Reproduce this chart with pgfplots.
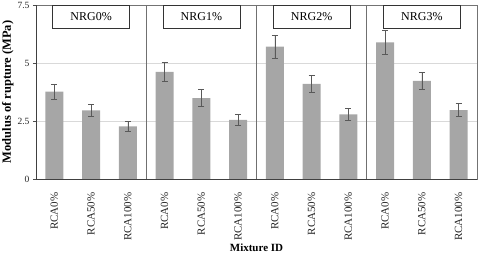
\documentclass[border=0pt]{standalone}
\usepackage{pgfplots}
\pgfplotsset{compat=1.18}
\usepackage{fontspec}
\setmainfont{Liberation Serif}
\usetikzlibrary{shadows}
\definecolor{barg}{HTML}{A6A6A6}
\definecolor{errg}{HTML}{595959}
\definecolor{gridg}{HTML}{D9D9D9}
\definecolor{sepg}{HTML}{707070}
\begin{document}
\begin{tikzpicture}
\begin{axis}[name=ax, at={(0,0)}, anchor=south west,
  scale only axis, width=441pt, height=174pt,
  xmin=-0.5, xmax=11.5, ymin=0, ymax=7.5,
  ytick={0,2.5,5,7.5}, yticklabels={0,2.5,5,7.5},
  xtick={0,...,11},
  xticklabels={RCA0\%,RCA50\%,RCA100\%,RCA0\%,RCA50\%,RCA100\%,RCA0\%,RCA50\%,RCA100\%,RCA0\%,RCA50\%,RCA100\%},
  x tick label style={rotate=90, anchor=east, xshift=-10pt, font=\fontsize{11}{12}\selectfont, text=black!85},
  y tick label style={font=\fontsize{9.5}{11}\selectfont, text=black!85},
  /pgf/number format/assume math mode=true,
  xtick style={draw=none},
  ytick pos=left,
  ytick align=outside, major tick length=3pt,
  ytick style={draw=black!70, line width=0.6pt},
  ymajorgrids, major grid style={gridg, line width=0.6pt},
  extra x ticks={2.5,5.5,8.5}, extra x tick labels={},
  extra x tick style={grid=major, major grid style={sepg, line width=0.8pt}, tick style={draw=none}},
  axis line style={draw=black!55, line width=0.6pt},
  xlabel={\bfseries Mixture ID}, xlabel style={font=\fontsize{11}{12}\selectfont, at={(0.5,0)}, anchor=north, yshift=-61pt},
  ylabel={\bfseries Modulus of rupture (MPa)}, ylabel style={font=\fontsize{12.5}{13}\selectfont, at={(0,0.5)}, anchor=south, yshift=19pt},
  clip=false,
]
\addplot[ybar, bar width=0.49, fill=barg, draw=none,
  error bars/.cd, y dir=both, y explicit,
  error bar style={errg, line width=0.7pt},
  error mark options={errg, line width=0.7pt, mark size=3pt, rotate=90}]
  table[x=x, y=y, y error=e] {
x y e
0 3.77 0.33
1 2.96 0.27
2 2.27 0.22
3 4.62 0.42
4 3.49 0.36
5 2.55 0.22
6 5.71 0.50
7 4.10 0.35
8 2.79 0.25
9 5.89 0.50
10 4.23 0.38
11 2.97 0.28
};
\draw[black!75, line width=0.9pt] (axis cs:-0.5,0) -- (axis cs:-0.5,7.5);
\draw[black!75, line width=0.9pt] (axis cs:-0.5,0) -- (axis cs:11.5,0);
\tikzset{pbox/.style={draw=black!80, fill=white, line width=0.6pt, minimum width=77pt, minimum height=23pt, inner sep=0pt, anchor=north, font=\fontsize{12}{13}\selectfont, drop shadow={shadow xshift=0.8pt, shadow yshift=-0.8pt, fill=black!50, opacity=1}}}
\node[pbox] at (axis cs:1,7.5) {NRG0\%};
\node[pbox] at (axis cs:4,7.5) {NRG1\%};
\node[pbox] at (axis cs:7,7.5) {NRG2\%};
\node[pbox] at (axis cs:10,7.5) {NRG3\%};
\end{axis}
\pgfresetboundingbox
\path (ax.south west) ++(-36pt,-74pt) rectangle ([shift={(3pt,5pt)}]ax.north east);
\end{tikzpicture}
\end{document}
